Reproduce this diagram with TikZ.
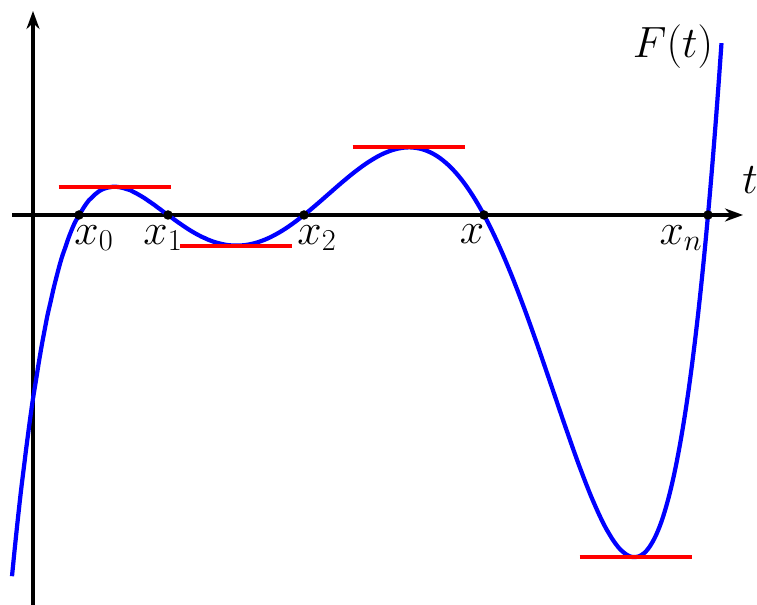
\documentclass[tikz,border=0pt]{standalone}
\usepackage{amsmath}
\usepackage{tikz}
\usetikzlibrary{arrows.meta}

\begin{document}
\begin{tikzpicture}[>={Stealth[length=3.6mm,width=2.6mm]},
  declare function={F(\t)=0.002255*(\t-0.92)*(\t-2.7)*(\t-5.42)*(\t-9.02)*(\t-13.5);},
  axis/.style={line width=2pt,->},
  curve/.style={draw=blue,line width=2.4pt},
  tangent/.style={draw=red,line width=2.3pt},
  zero/.style={circle,fill=black,inner sep=0pt,minimum size=1.9mm},
  lbl/.style={inner sep=0pt,font=\fontsize{23}{28}\selectfont},
  biglbl/.style={inner sep=0pt,font=\fontsize{32}{38}\selectfont}]
\useasboundingbox (-0.66,-7.8) rectangle (14.48,4.3);
% axes
\coordinate (xa) at (-0.42,0);
\coordinate (xb) at (14.2,0);
\coordinate (ya) at (0,-7.8);
\coordinate (yb) at (0,4.08);
\draw[axis] (xa)--(xb);
\draw[axis] (ya)--(yb);
% the function
\draw[curve] plot[domain=-0.42:13.772,samples=240,smooth] (\x,{F(\x)});
% horizontal tangents at the extrema
\coordinate (m1) at (1.63,{F(1.63)});
\coordinate (m2) at (4.06,{F(4.06)});
\coordinate (m3) at (7.51,{F(7.51)});
\coordinate (m4) at (12.05,{F(12.05)});
\draw[tangent] ([xshift=-1.12cm]m1)--([xshift=1.12cm]m1);
\draw[tangent] ([xshift=-1.12cm]m2)--([xshift=1.12cm]m2);
\draw[tangent] ([xshift=-1.12cm]m3)--([xshift=1.12cm]m3);
\draw[tangent] ([xshift=-1.12cm]m4)--([xshift=1.12cm]m4);
% zeros
\node[zero] (z0) at (0.92,0) {};
\node[zero] (z1) at (2.7,0) {};
\node[zero] (z2) at (5.42,0) {};
\node[zero] (z3) at (9.02,0) {};
\node[zero] (z4) at (13.5,0) {};
\node[lbl] (l0) at (1.22,-0.46) {$x_0$};
\node[lbl] (l1) at (2.6,-0.46) {$x_1$};
\node[lbl] (l2) at (5.68,-0.46) {$x_2$};
\node[lbl] (l3) at (8.78,-0.38) {$x$};
\node[lbl] (l4) at (12.96,-0.46) {$x_n$};
\node[biglbl] (tl) at (14.34,0.7) {$t$};
\node[biglbl] (fl) at (12.8,3.36) {$F(t)$};
\end{tikzpicture}
\end{document}
